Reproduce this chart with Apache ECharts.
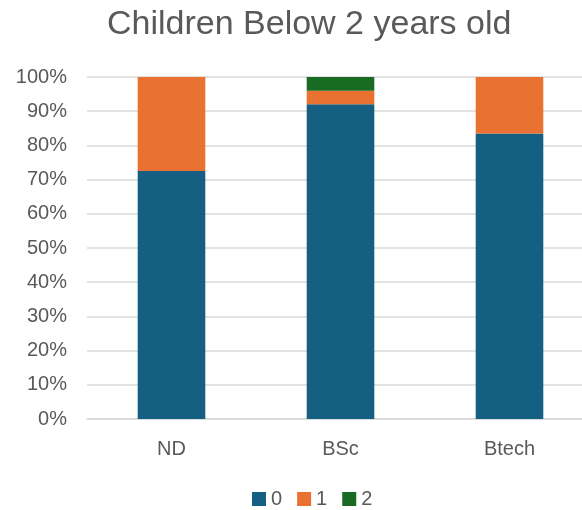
<!DOCTYPE html>
<html>
<head>
<meta charset="utf-8">
<script src="https://cdn.jsdelivr.net/npm/echarts@6/dist/echarts.min.js"></script>
<style>html,body{margin:0;padding:0;background:#fff;overflow:hidden;width:582px;height:510px;}#c{width:600px;height:510px;}</style>
</head>
<body>
<div id="c"></div>
<script>
const categories = ['ND', 'BSc', 'Btech'];
const seriesNames = ['0', '1', '2'];
const values0 = [0.725, 0.92, 0.835];
const values1 = [0.275, 0.04, 0.165];
const values2 = [0, 0.04, 0];
const colors = ['#156082', '#E97132', '#196B24'];

const chart = echarts.init(document.getElementById('c'));
const font = 'Liberation Sans, Arial, sans-serif';
const allValues = [values0, values1, values2];
chart.setOption({
  animation: false,
  title: {
    text: 'Children Below 2 years old',
    left: 102, top: 3,
    textStyle: { fontFamily: font, fontSize: 34, fontWeight: 'normal', color: '#595959' }
  },
  legend: {
    data: seriesNames,
    left: 247, top: 484, padding: 5,
    itemWidth: 14, itemHeight: 14, itemGap: 15,
    icon: 'rect',
    textStyle: { fontFamily: font, fontSize: 20, color: '#595959' }
  },
  grid: { left: 87, right: 6, top: 77, bottom: 91 },
  xAxis: {
    type: 'category', data: categories,
    axisTick: { show: false },
    axisLine: { show: true, lineStyle: { color: '#d9d9d9', width: 1.5 } },
    axisLabel: { fontFamily: font, fontSize: 20, color: '#595959', margin: 20 }
  },
  yAxis: {
    type: 'value', min: 0, max: 1, interval: 0.1,
    axisLabel: { fontFamily: font, fontSize: 20, color: '#595959', margin: 20,
      formatter: v => Math.round(v * 100) + '%' },
    splitLine: { lineStyle: { color: '#d9d9d9', width: 1.5 } }
  },
  series: seriesNames.map((n, i) => ({
    name: n, type: 'bar', stack: 'total', barCategoryGap: '60%',
    itemStyle: { color: colors[i] },
    data: allValues[i]
  }))
});
</script>
</body>
</html>
